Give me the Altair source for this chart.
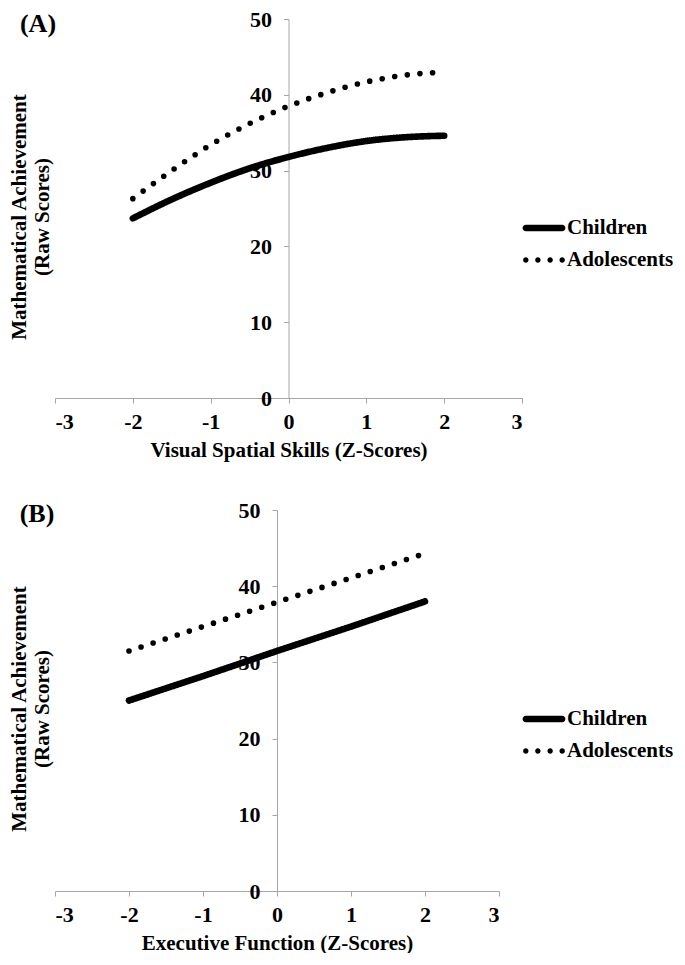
import altair as alt
import pandas as pd

groups = ["Children", "Adolescents"]
x_ticks = [-3, -2, -1, 0, 1, 2, 3]
y_ticks = [0, 10, 20, 30, 40, 50]

# Panel A (Visual Spatial Skills)
x_a = [-2, -1.5, -1, -0.5, 0, 0.5, 1, 1.5, 2]
children_a = [23.7, 26.2, 28.4, 30.3, 31.8, 33.0, 33.9, 34.4, 34.6]
adolescents_a = [26.3, 30.0, 33.4, 36.2, 38.5, 40.3, 41.7, 42.6, 43.0]

# Panel B (Executive Function)
x_b = [-2, -1, 0, 1, 2]
children_b = [25.0, 28.2, 31.5, 34.7, 38.0]
adolescents_b = [31.5, 34.7, 37.9, 41.1, 44.3]

y_title = ["Mathematical Achievement", "(Raw Scores)"]
x_title_a = "Visual Spatial Skills (Z-Scores)"
x_title_b = "Executive Function (Z-Scores)"

FONT = "Liberation Serif"
GRAY = "#a6a6a6"
FS = 21   # axis titles
LS = 22   # tick labels

# legend glyphs (unit-square SVG paths): thick bar and four dots
BAR = "M-1.07,-0.19H1.07A0.19,0.19 0 0 1 1.07,0.19H-1.07A0.19,0.19 0 0 1 -1.07,-0.19Z"


def dot(cx, r=0.16):
    return (f"M{cx - r:.3f},0A{r},{r} 0 1 0 {cx + r:.3f},0"
            f"A{r},{r} 0 1 0 {cx - r:.3f},0Z")


DOTS = "".join(dot(c) for c in [-1.07, -0.36, 0.36, 1.07])


def long(xs, c, a):
    rows = [{"x": x, "y": v, "group": groups[0]} for x, v in zip(xs, c)]
    rows += [{"x": x, "y": v, "group": groups[1]} for x, v in zip(xs, a)]
    return pd.DataFrame(rows)


def panel(df, W, H, xtitle, tag, tag_x, tag_y, title_x, legend_x, legend_y, interp):
    xenc = alt.X(
        "x:Q",
        scale=alt.Scale(domain=[-3, 3], nice=False, zero=False),
        axis=alt.Axis(
            values=x_ticks, title=xtitle, labelExpr="datum.value + ''",
            grid=False, domainColor=GRAY, tickColor=GRAY, tickSize=5,
            labelFont=FONT, labelFontSize=LS, labelFontWeight="bold", labelColor="black",
            labelPadding=8, titleFont=FONT, titleFontSize=FS, titleFontWeight="bold",
            titleColor="black", titlePadding=7,
        ),
    )
    yenc = alt.Y(
        "y:Q",
        scale=alt.Scale(domain=[0, 50], nice=False),
        axis=alt.Axis(
            values=y_ticks, offset=-W / 2, title=y_title, titleAngle=270,
            titleX=title_x - W / 2, titleY=H / 2 + 8, titleAlign="center",
            titleBaseline="top", titleLineHeight=23, grid=False,
            domainColor=GRAY, tickColor=GRAY, tickSize=5, labelFont=FONT,
            labelFontSize=LS, labelFontWeight="bold", labelColor="black",
            labelPadding=12, titleFont=FONT, titleFontSize=FS,
            titleFontWeight="bold", titleColor="black",
        ),
    )
    # line styles: data-driven domain (alphabetical: Adolescents, Children)
    lines = alt.Chart(df).mark_line(
        color="black", strokeCap="round", strokeJoin="round", interpolate=interp
    ).encode(
        x=xenc,
        y=yenc,
        strokeDash=alt.StrokeDash(
            "group:N", scale=alt.Scale(range=[[0, 12.7], [1, 0]]), legend=None
        ),
        strokeWidth=alt.StrokeWidth(
            "group:N", scale=alt.Scale(range=[5.6, 6.6]), legend=None
        ),
    )
    keys = alt.Chart(df).mark_point(
        filled=True, color="black", opacity=0, size=10
    ).encode(
        x="x:Q",
        y="y:Q",
        shape=alt.Shape(
            "group:N",
            scale=alt.Scale(domain=groups, range=[BAR, DOTS]),
            legend=alt.Legend(
                title=None, orient="none", legendX=legend_x, legendY=legend_y,
                symbolSize=1156, symbolFillColor="black", symbolStrokeWidth=0,
                symbolOpacity=1, labelFont=FONT, labelFontSize=21,
                labelFontWeight="bold", labelColor="black", labelOffset=6,
                rowPadding=5,
            ),
        ),
    )
    tagc = alt.Chart(pd.DataFrame({"t": [tag]})).mark_text(
        font=FONT, fontSize=26, fontWeight="bold", align="center",
        baseline="middle", color="black",
    ).encode(x=alt.value(tag_x), y=alt.value(tag_y), text="t:N")
    return alt.layer(lines, keys, tagc).properties(width=W, height=H)


pa = panel(long(x_a, children_a, adolescents_a), 467, 379, x_title_a, "(A)",
           -17, 5, -47, 472, 192, "monotone")
pb = panel(long(x_b, children_b, adolescents_b), 444, 381, x_title_b, "(B)",
           -18, 4, -47, 472, 192, "linear")

chart = alt.ConcatChart(
    concat=[pa, pb], columns=1, spacing=39, bounds="full", padding=0
).resolve_scale(
    x="independent", y="independent", strokeDash="independent",
    strokeWidth="independent", shape="independent"
).resolve_legend(shape="independent").configure_view(strokeWidth=0)

chart.save("out.html", embed_options={"renderer": "svg", "actions": False})
